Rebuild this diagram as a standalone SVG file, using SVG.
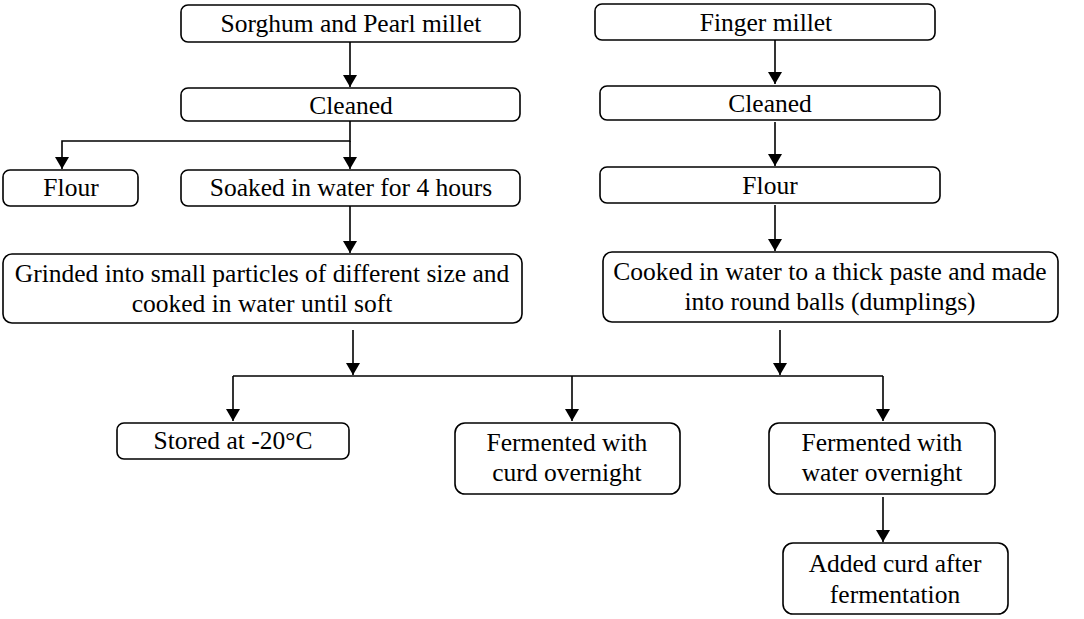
<svg xmlns="http://www.w3.org/2000/svg" width="1084" height="619" viewBox="0 0 1084 619">
<style>
.box{fill:#fff;stroke:#000;stroke-width:1.6}
.t{font-family:"Liberation Serif","Times New Roman",serif;font-size:25.5px;fill:#000;text-anchor:middle}
.ln{fill:none;stroke:#000;stroke-width:1.6}
</style>
<defs>
<marker id="ah" viewBox="0 0 12 14" refX="12" refY="7" markerWidth="12" markerHeight="14" markerUnits="userSpaceOnUse" orient="auto">
<path d="M0,0 L12,7 L0,14 Z" fill="#000"/>
</marker>
</defs>
<rect width="1084" height="619" fill="#fff"/>
<g id="connectors">
<path class="ln" d="M350,42 V87" marker-end="url(#ah)"/>
<path class="ln" d="M350,121 V141 H62 V169" marker-end="url(#ah)"/>
<path class="ln" d="M350,141 V169" marker-end="url(#ah)"/>
<path class="ln" d="M350,206 V253" marker-end="url(#ah)"/>
<path class="ln" d="M353,330 V375" marker-end="url(#ah)"/>
<path class="ln" d="M775,40 V84" marker-end="url(#ah)"/>
<path class="ln" d="M775,122 V166" marker-end="url(#ah)"/>
<path class="ln" d="M775,205 V251" marker-end="url(#ah)"/>
<path class="ln" d="M780,330 V375" marker-end="url(#ah)"/>
<path class="ln" d="M233,376 H883"/>
<path class="ln" d="M233,376 V421" marker-end="url(#ah)"/>
<path class="ln" d="M572,376 V421" marker-end="url(#ah)"/>
<path class="ln" d="M883,376 V421" marker-end="url(#ah)"/>
<path class="ln" d="M883,497 V542" marker-end="url(#ah)"/>
</g>
<g id="n1"><rect class="box" x="181" y="5" width="339" height="37" rx="7"/><text class="t" x="351" y="32">Sorghum and Pearl millet</text></g>
<g id="n2"><rect class="box" x="181" y="88" width="339" height="33" rx="7"/><text class="t" x="351" y="114">Cleaned</text></g>
<g id="n3"><rect class="box" x="3" y="170" width="135" height="36" rx="7"/><text class="t" x="71" y="196">Flour</text></g>
<g id="n4"><rect class="box" x="181" y="170" width="339" height="36" rx="7"/><text class="t" x="351" y="196">Soaked in water for 4 hours</text></g>
<g id="n5"><rect class="box" x="3" y="254" width="519" height="69" rx="9"/><text class="t" x="262" y="282">Grinded into small particles of different size and</text><text class="t" x="262" y="312">cooked in water until soft</text></g>
<g id="n6"><rect class="box" x="595" y="4" width="340" height="36" rx="7"/><text class="t" x="766" y="31">Finger millet</text></g>
<g id="n7"><rect class="box" x="600" y="86" width="340" height="34" rx="7"/><text class="t" x="770" y="112">Cleaned</text></g>
<g id="n8"><rect class="box" x="600" y="167" width="340" height="36" rx="7"/><text class="t" x="770" y="194">Flour</text></g>
<g id="n9"><rect class="box" x="603" y="252" width="455" height="70" rx="9"/><text class="t" x="830" y="280">Cooked in water to a thick paste and made</text><text class="t" x="830" y="310">into round balls (dumplings)</text></g>
<g id="n10"><rect class="box" x="117" y="423" width="232" height="36" rx="7"/><text class="t" x="233" y="449">Stored at -20°C</text></g>
<g id="n11"><rect class="box" x="455" y="423" width="225" height="71" rx="10"/><text class="t" x="567" y="451">Fermented with</text><text class="t" x="567" y="481">curd overnight</text></g>
<g id="n12"><rect class="box" x="769" y="423" width="226" height="71" rx="10"/><text class="t" x="882" y="451">Fermented with</text><text class="t" x="882" y="481">water overnight</text></g>
<g id="n13"><rect class="box" x="783" y="543" width="225" height="71" rx="10"/><text class="t" x="895" y="572">Added curd after</text><text class="t" x="895" y="603">fermentation</text></g>
</svg>
